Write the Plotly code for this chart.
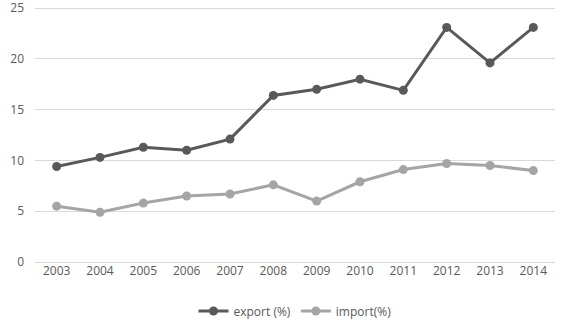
import plotly.graph_objects as go

years = ["2003", "2004", "2005", "2006", "2007", "2008", "2009", "2010", "2011", "2012", "2013", "2014"]
export_pct = [9.4, 10.3, 11.3, 11.0, 12.1, 16.4, 17.0, 18.0, 16.9, 23.1, 19.6, 23.1]
import_pct = [5.5, 4.9, 5.8, 6.5, 6.7, 7.6, 6.0, 7.9, 9.1, 9.7, 9.5, 9.0]
y_ticks = [0, 5, 10, 15, 20, 25]

fig = go.Figure()
fig.add_trace(go.Scatter(
    x=years, y=export_pct, name="export (%)", mode="lines+markers",
    line=dict(color="#595959", width=3), marker=dict(size=9, color="#595959")))
fig.add_trace(go.Scatter(
    x=years, y=import_pct, name="import(%)", mode="lines+markers",
    line=dict(color="#A5A5A5", width=3), marker=dict(size=9, color="#A5A5A5")))

fig.update_layout(
    width=561, height=326,
    margin=dict(l=35, r=6, t=3, b=64, autoexpand=False),
    paper_bgcolor="white", plot_bgcolor="white",
    font=dict(family="Open Sans, Liberation Sans, sans-serif", size=12, color="#595959"),
    showlegend=True,
    legend=dict(orientation="h", x=0.5, xanchor="center", yref="container",
                y=0.046, yanchor="middle",
                font=dict(size=12, color="#595959"), itemwidth=30, tracegroupgap=0),
    xaxis=dict(type="category", range=[-0.5, 11.5], showgrid=False, zeroline=False,
               showline=False, ticks="", automargin=False,
               tickfont=dict(size=12, color="#595959")),
    yaxis=dict(range=[0, 25.5], tickvals=y_ticks, ticktext=[str(v) for v in y_ticks],
               showgrid=True, gridcolor="#D9D9D9",
               gridwidth=1, zeroline=True, zerolinecolor="#D9D9D9", zerolinewidth=1,
               showline=False, ticks="", automargin=False, ticklabeloverflow="allow",
               ticklabelstandoff=10, tickfont=dict(size=12, color="#595959")),
)

fig.write_html("out.html")
